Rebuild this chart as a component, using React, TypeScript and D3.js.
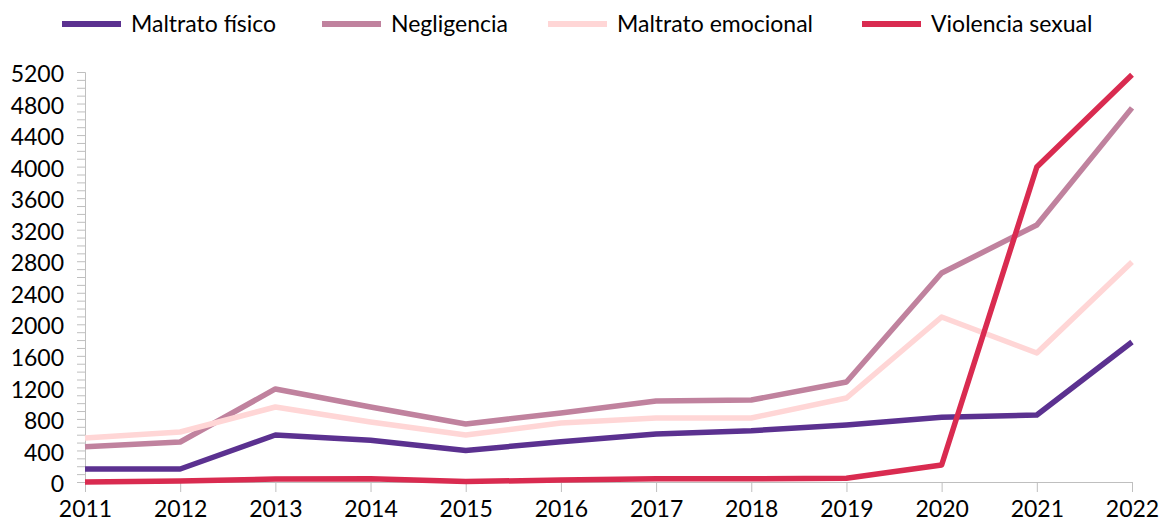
import React, { useEffect, useRef } from 'react';
import * as d3 from 'd3';

const years = ['2011', '2012', '2013', '2014', '2015', '2016', '2017', '2018', '2019', '2020', '2021', '2022'];
const seriesNames = ['Maltrato físico', 'Negligencia', 'Maltrato emocional', 'Violencia sexual'];
const seriesColors = ['#5b3190', '#c0829e', '#ffd6d6', '#d92b50'];

const maltratoFisico = [165, 165, 596, 530, 400, 510, 609, 650, 723, 820, 850, 1776];
const negligencia = [448, 507, 1180, 951, 736, 875, 1027, 1040, 1268, 2650, 3259, 4745];
const maltratoEmocional = [558, 634, 951, 761, 596, 748, 812, 812, 1065, 2093, 1636, 2790];
const violenciaSexual = [0, 13, 38, 40, 5, 25, 40, 40, 47, 216, 3995, 5165];

const yTicks = d3.range(0, 5201, 400);

const App = () => {
  const ref = useRef<SVGSVGElement>(null);

  useEffect(() => {
    const width = 1160;
    const height = 524;
    const margin = { top: 72, right: 28, bottom: 42, left: 85 };
    const font = 'Lato, "DejaVu Sans", sans-serif';
    const fontSize = 23;

    const svg = d3.select(ref.current);
    svg.selectAll('*').remove();

    const x = d3.scalePoint<string>()
      .domain(years)
      .range([margin.left, width - margin.right]);

    const y = d3.scaleLinear()
      .domain([0, 5200])
      .range([height - margin.bottom, margin.top]);

    // y axis: minor ticks every 100, labels every 400
    const yAxis = svg.append('g')
      .attr('transform', `translate(${margin.left},0)`)
      .call(d3.axisLeft(y).tickValues(d3.range(0, 5201, 100)).tickSize(8).tickFormat(() => ''));
    yAxis.select('.domain').attr('stroke', '#bfbfbf');
    yAxis.selectAll('.tick line').attr('stroke', '#bfbfbf');

    svg.append('g')
      .selectAll('text')
      .data(yTicks)
      .enter().append('text')
      .attr('x', margin.left - 21)
      .attr('y', d => y(d))
      .attr('dy', '0.44em')
      .attr('text-anchor', 'end')
      .attr('font-family', font)
      .attr('font-size', fontSize)
      .attr('fill', '#000')
      .text(d => String(d));

    // x axis
    const xAxis = svg.append('g')
      .attr('transform', `translate(0,${y(0)})`)
      .call(d3.axisBottom(x).tickSize(10).tickSizeOuter(0).tickPadding(9));
    xAxis.select('.domain').attr('stroke', '#bfbfbf');
    xAxis.selectAll('.tick line').attr('stroke', '#bfbfbf');
    xAxis.selectAll('.tick text')
      .attr('font-family', font)
      .attr('font-size', fontSize)
      .attr('fill', '#000');

    // lines
    const allSeries = [maltratoFisico, negligencia, maltratoEmocional, violenciaSexual];
    const line = d3.line<number>()
      .x((_, i) => x(years[i]) as number)
      .y(d => y(d));

    svg.append('g')
      .selectAll('path')
      .data(allSeries)
      .enter().append('path')
      .attr('d', d => line(d))
      .attr('fill', 'none')
      .attr('stroke', (_, i) => seriesColors[i])
      .attr('stroke-width', 5.5)
      .attr('stroke-linejoin', 'round');

    // legend
    const legendX = [62, 322, 548, 862];
    const legend = svg.append('g')
      .selectAll('g')
      .data(seriesNames)
      .enter().append('g')
      .attr('transform', (_, i) => `translate(${legendX[i]},24)`);
    legend.append('line')
      .attr('x1', 0)
      .attr('x2', 59)
      .attr('stroke', (_, i) => seriesColors[i])
      .attr('stroke-width', 6);
    legend.append('text')
      .attr('x', 69)
      .attr('dy', '0.34em')
      .attr('font-family', font)
      .attr('font-size', fontSize)
      .attr('fill', '#000')
      .text(d => d);
  }, []);

  return (
    <svg
      ref={ref}
      width={1160}
      height={524}
      style={{ position: 'absolute', left: 0, top: 0, background: '#fff' }}
    />
  );
};

export default App;
